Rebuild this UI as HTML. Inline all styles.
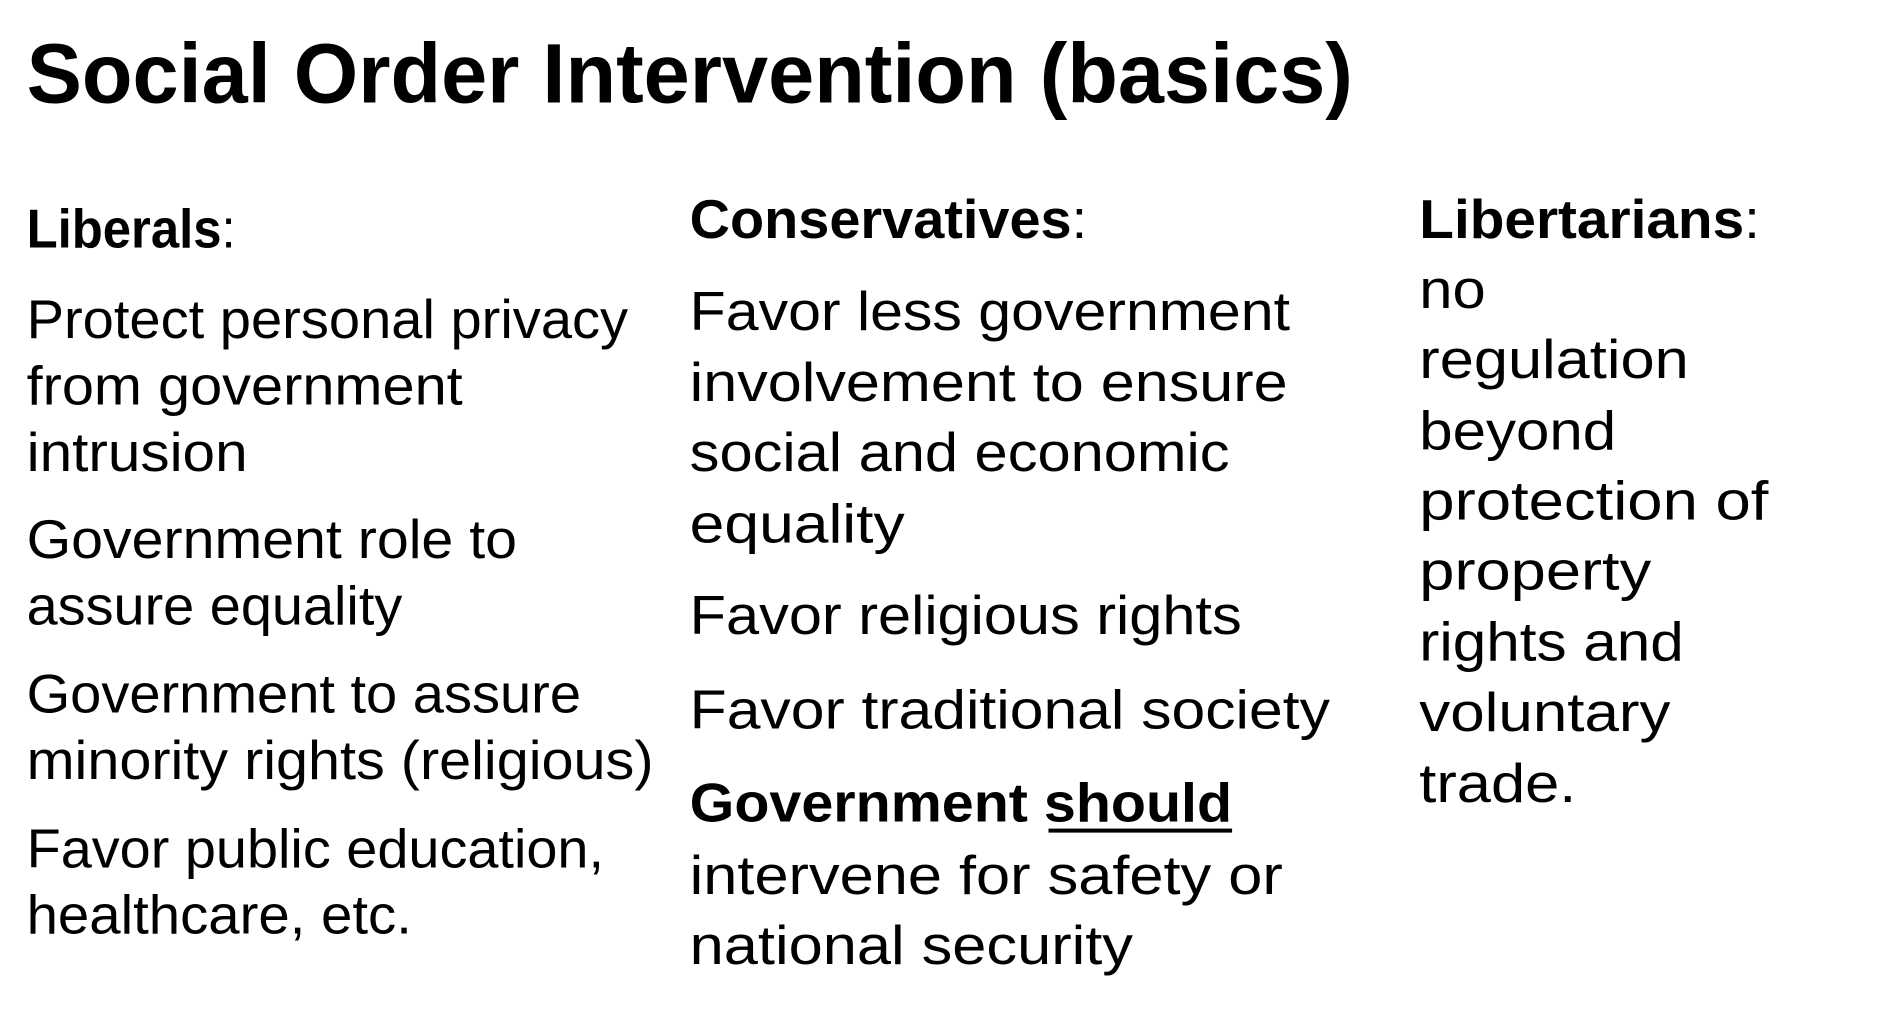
<!DOCTYPE html>
<html><head><meta charset="utf-8"><style>
html,body{margin:0;padding:0;background:#fff;width:1894px;height:1014px;overflow:hidden}
svg{display:block}
text{font-family:"Liberation Sans",sans-serif;fill:#000}
</style></head><body>
<svg id="s" width="1894" height="1014" viewBox="0 0 1894 1014" xmlns="http://www.w3.org/2000/svg"></svg>
<script>
const S = 1894/1568;
// [text, x, baseline, xEnd, style] in reference-scaled coords
const lines = [
 ["Social Order Intervention (basics)",22,85,1120,"title"],
 ["Liberals|:",22,205,195,"head"],
 ["Protect personal privacy",22,280,520,""],
 ["from government",22,335,383,""],
 ["intrusion",22,390,205,""],
 ["Government role to",22,462,428,""],
 ["assure equality",22,517,333,""],
 ["Government to assure",22,590,481,""],
 ["minority rights (religious)",22,645,541,""],
 ["Favor public education,",22,718,500,""],
 ["healthcare, etc.",22,773,341,""],
 ["Conservatives|:",571,197,900,"head"],
 ["Favor less government",571,273,1068,""],
 ["involvement to ensure",571,332,1066,""],
 ["social and economic",571,390,1018,""],
 ["equality",571,449,749,""],
 ["Favor religious rights",571,525,1028,""],
 ["Favor traditional society",571,603,1101,""],
 ["Government should",571,680,1020,"bold"],
 ["intervene for safety or",571,740,1062,""],
 ["national security",571,798,938,""],
 ["Libertarians|:",1175,197,1457,"head"],
 ["no",1175,255,1230,""],
 ["regulation",1175,313,1398,""],
 ["beyond",1175,372,1338,""],
 ["protection of",1175,430,1464,""],
 ["property",1175,488,1367,""],
 ["rights and",1175,547,1394,""],
 ["voluntary",1175,605,1383,""],
 ["trade.",1175,664,1305,""]
];
const svg = document.getElementById('s');
const NS = "http://www.w3.org/2000/svg";
lines.forEach((l,i)=>{
  const t = document.createElementNS(NS,'text');
  
  
  t.setAttribute('x', (l[1]*S).toFixed(1));
  t.setAttribute('y', (l[2]*S).toFixed(1));
  t.setAttribute('font-size', l[4]==='title' ? 84 : 55);
  t.setAttribute('textLength', ((l[3]-l[1])*S).toFixed(1));
  t.setAttribute('lengthAdjust', 'spacingAndGlyphs');
  if (l[4]==='title' || l[4]==='bold') t.setAttribute('font-weight','bold');
  if (l[4]==='head') {
    const parts = l[0].split('|');
    const a = document.createElementNS(NS,'tspan');
    a.setAttribute('font-weight','bold');
    a.textContent = parts[0];
    const b = document.createElementNS(NS,'tspan');
    b.textContent = parts[1];
    t.appendChild(a); t.appendChild(b);
  } else {
    t.textContent = l[0];
  }
  svg.appendChild(t);
});
const u = document.createElementNS(NS,'rect');


u.setAttribute('x', (868*S).toFixed(1));
u.setAttribute('y', (686*S).toFixed(1));
u.setAttribute('width', ((1020-868)*S).toFixed(1));
u.setAttribute('height', '4');
u.setAttribute('fill', '#000');
svg.appendChild(u);
</script>
</body></html>
